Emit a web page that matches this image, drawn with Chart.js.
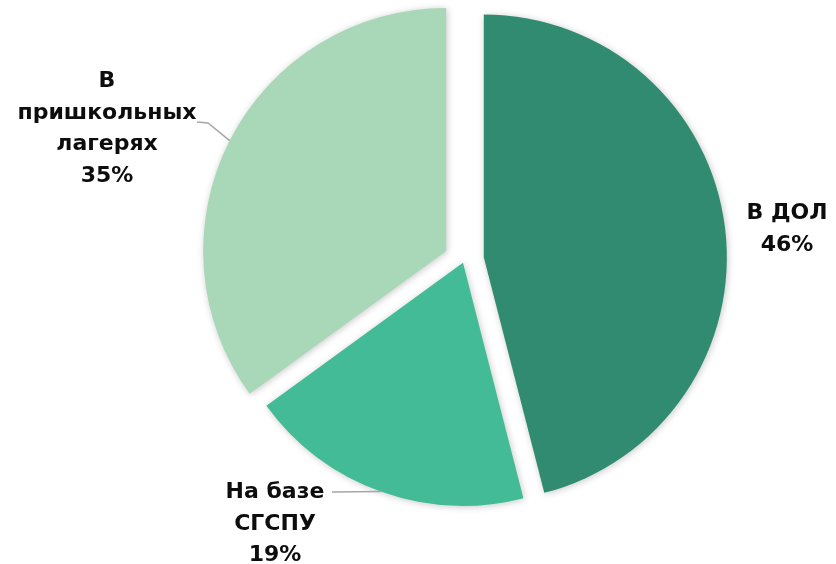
<!DOCTYPE html>
<html>
<head>
<meta charset="utf-8">
<script src="https://cdn.jsdelivr.net/npm/chart.js@4"></script>
<style>
  html, body { margin: 0; padding: 0; background: #fff; }
  #wrap { width: 836px; height: 564px; }
</style>
</head>
<body>
<div id="wrap"><canvas id="pieChart" width="836" height="564"></canvas></div>
<script>
// --- Dati ---
const categories = [['В ДОЛ'], ['На базе', 'СГСПУ'], ['В', 'пришкольных', 'лагерях']];
const shares = [46, 19, 35];
const colors = ['#318B70', '#43BB96', '#A8D8B7'];

// spostamento (px) di ogni fetta verso l'esterno
const explodeBy = [20, 3, 20];

// posizione delle etichette: centro x, baseline della prima riga, linea guida
const labelPos = [
  { x: 787, y: 219, lead: null },
  { x: 275, y: 498, lead: [[332, 492]] },
  { x: 107, y: 87, lead: [[197, 122], [208, 123]] }
];
const lineH = 31.7;

// --- Fette "esplose": traslo ogni arco lungo la bisettrice ---
const explodePlugin = {
  id: 'explode',
  afterUpdate(chart) {
    chart.getDatasetMeta(0).data.forEach((arc, i) => {
      if (arc._exploded) return;
      const baseDraw = arc.draw;
      arc.draw = function (ctx, area) {
        const mid = (this.startAngle + this.endAngle) / 2;
        const d = explodeBy[i];
        ctx.save();
        ctx.translate(Math.cos(mid) * d, Math.sin(mid) * d);
        ctx.shadowColor = 'rgba(0,0,0,0.22)';
        ctx.shadowBlur = 7;
        ctx.shadowOffsetX = 1;
        ctx.shadowOffsetY = 1;
        baseDraw.call(this, ctx, area);
        ctx.restore();
      };
      arc._exploded = true;
    });
  }
};

// --- Etichette esterne con linee guida ---
const labelPlugin = {
  id: 'outLabels',
  afterDatasetsDraw(chart) {
    const ctx = chart.ctx;
    const arcs = chart.getDatasetMeta(0).data;
    ctx.save();
    arcs.forEach((arc, i) => {
      const pos = labelPos[i];
      if (pos.lead) {
        const mid = (arc.startAngle + arc.endAngle) / 2;
        const r = arc.outerRadius + explodeBy[i];
        const ex = arc.x + Math.cos(mid) * r;
        const ey = arc.y + Math.sin(mid) * r;
        ctx.strokeStyle = '#A6A6A6';
        ctx.lineWidth = 1.5;
        ctx.beginPath();
        ctx.moveTo(pos.lead[0][0], pos.lead[0][1]);
        pos.lead.slice(1).forEach(p => ctx.lineTo(p[0], p[1]));
        ctx.lineTo(ex, ey);
        ctx.stroke();
      }
      const lines = categories[i].concat([shares[i] + '%']);
      ctx.fillStyle = '#0D0D0D';
      ctx.font = 'bold 22px "DejaVu Sans"';
      ctx.textAlign = 'center';
      ctx.textBaseline = 'alphabetic';
      lines.forEach((t, k) => ctx.fillText(t, pos.x, pos.y + k * lineH));
    });
    ctx.restore();
  }
};

new Chart(document.getElementById('pieChart'), {
  type: 'pie',
  data: {
    labels: categories.map(c => c.join(' ')),
    datasets: [{
      data: shares,
      backgroundColor: colors,
      borderWidth: 0,
      hoverOffset: 0
    }]
  },
  options: {
    responsive: false,
    animation: false,
    radius: 243,
    layout: { padding: { top: 0, bottom: 44, left: 92, right: 0 } },
    plugins: {
      legend: { display: false },
      tooltip: { enabled: false }
    }
  },
  plugins: [explodePlugin, labelPlugin]
});
</script>
</body>
</html>
